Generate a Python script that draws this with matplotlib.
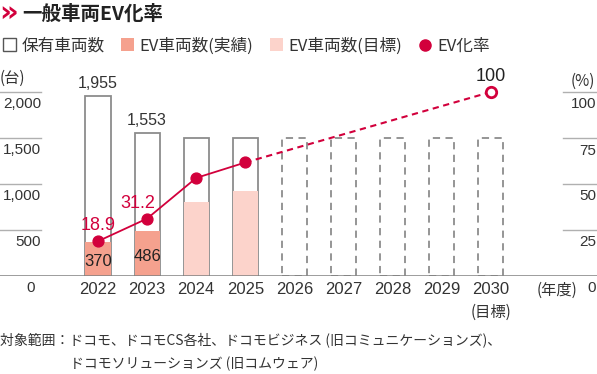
import matplotlib
matplotlib.use("Agg")
from matplotlib import pyplot as plt
from matplotlib.patches import Patch
from matplotlib.lines import Line2D

plt.rcParams["font.family"] = ["Noto Sans CJK JP", "DejaVu Sans"]

years = ["2022", "2023", "2024", "2025", "2026", "2027", "2028", "2029", "2030"]
total = [1955, 1553, 1500, 1500, 1500, 1500, 1500, 1500, 1500]
ev_actual = [370, 486]
ev_target = [800, 925]
ev_rate = [18.9, 31.2, 53.3, 61.7]
rate_2030 = 100
left_ticks = [0, 500, 1000, 1500, 2000]
right_ticks = [0, 25, 50, 75, 100]

RED = "#D2003C"
SALMON = "#F5A18E"
PINK = "#FCD3CB"
GRAY = "#8C8C8C"
TXT = "#333333"
NUM = ["Liberation Sans", "DejaVu Sans"]

W, H = 597, 374
fig = plt.figure(figsize=(W / 100, H / 100), dpi=100)
# axes covers full width; data x index i sits at 98 + 49.1*i px
ax = fig.add_axes([0, (H - 276) / H, 1, 216 / H])
ax.set_xlim(-98 / 49.1, (W - 98) / 49.1)
ymax = 216 / 184 * 2000
ax.set_ylim(0, ymax)
ax2 = ax.twinx()
ax2.set_ylim(0, ymax / 20)
for a in (ax, ax2):
    a.axis("off")

x = list(range(len(years)))
bw = 0.51

# total vehicles: solid for 2022-2025, dashed for later years
for i, v in enumerate(total):
    ls = (0, (4, 3)) if i >= 4 else "-"
    ax.bar(i, v, width=bw, facecolor="white", edgecolor=GRAY,
           linewidth=1.3, linestyle=ls, zorder=2)

ax.bar(x[:2], ev_actual, width=bw, color=SALMON, zorder=3)
ax.bar(x[2:4], ev_target, width=bw, color=PINK, zorder=3)

# baseline and the short gridlines at both sides
ax.axhline(0, color="#808080", lw=1.8, zorder=4)
for v in left_ticks[1:]:
    ax.axhline(v, xmin=0, xmax=41 / W, color="#B0B0B0", lw=1)
    ax.axhline(v, xmin=563 / W, xmax=1, color="#B0B0B0", lw=1)

for v in left_ticks:
    xx = 31 / W if v == 0 else 41 / W
    ax.annotate(f"{v:,}", xy=(xx, v), xycoords=("axes fraction", "data"),
                xytext=(0, -9), textcoords="offset points",
                ha="center" if v == 0 else "right", va="center",
                fontsize=11, family=NUM, color=TXT)
for v in right_ticks:
    ax2.annotate(str(v), xy=(596 / W, v), xycoords=("axes fraction", "data"),
                 xytext=(0, -9), textcoords="offset points", ha="right",
                 va="center", fontsize=11, family=NUM, color=TXT)

ax.annotate("(台)", xy=(0, 2000), xycoords=("axes fraction", "data"),
            xytext=(0, 10), textcoords="offset points", ha="left", va="center",
            fontsize=11, color=TXT)
ax2.annotate("(%)", xy=(595 / W, 100), xycoords=("axes fraction", "data"),
             xytext=(0, 8), textcoords="offset points", ha="right", va="center",
             fontsize=11, color=TXT)

# x labels
for i, y in enumerate(years):
    ax.annotate(y, xy=(i, 0), xytext=(0, -10), textcoords="offset points",
                ha="center", va="center", fontsize=12, family=NUM, color=TXT)
ax.annotate("(目標)", xy=(8, 0), xytext=(0, -26), textcoords="offset points",
            ha="center", va="center", fontsize=11, color=TXT)
ax.annotate("(年度)", xy=(557 / W, 0), xycoords=("axes fraction", "data"),
            xytext=(0, -10), textcoords="offset points", ha="center",
            va="center", fontsize=11, color=TXT)

# value labels
for i in range(2):
    ax.annotate(f"{total[i]:,}", xy=(i, total[i]), xytext=(0, 4),
                textcoords="offset points", ha="center", va="bottom",
                fontsize=11.5, family=NUM, color=TXT)
    ax.annotate(str(ev_actual[i]), xy=(i, ev_actual[i] / 2), xytext=(0, -2),
                textcoords="offset points", ha="center", va="center",
                fontsize=12, family=NUM, color="#222222", zorder=6)

# EV rate line
ax2.plot(x[:4], ev_rate, color=RED, lw=1.3, marker="o", ms=7.8, zorder=5)
ax2.plot([x[3], x[8]], [ev_rate[3], rate_2030], color=RED, lw=1.5,
         linestyle=(0, (3, 2.2)), zorder=5)
ax2.plot(x[8], rate_2030, marker="o", ms=7.5, mfc="white", mec=RED, mew=2,
         zorder=6)
ax2.annotate(f"{ev_rate[0]}", xy=(0, ev_rate[0]), xytext=(0, 11),
             textcoords="offset points", ha="center", va="center",
             fontsize=13, family=NUM, color=RED)
ax2.annotate(f"{ev_rate[1]}", xy=(1, ev_rate[1]), xytext=(-7, 11),
             textcoords="offset points", ha="center", va="center",
             fontsize=13, family=NUM, color=RED)
ax2.annotate(str(rate_2030), xy=(8, rate_2030), xytext=(0, 11),
             textcoords="offset points", ha="center", va="center",
             fontsize=13, family=NUM, color="#222222")

# title
fig.text(-1 / W, 1 - 13 / H, "»", color=RED, fontsize=21, fontweight="bold",
         va="center", ha="left", family=["DejaVu Sans"])
fig.text(22 / W, 1 - 14 / H, "一般車両EV化率", fontsize=14, fontweight="bold",
         va="center", ha="left", color="#222222")

# legend
handles = [
    Patch(facecolor="white", edgecolor="#555555", linewidth=1),
    Patch(facecolor=SALMON, edgecolor="none"),
    Patch(facecolor=PINK, edgecolor="none"),
    Line2D([], [], color=RED, marker="o", ms=8, lw=0),
]
labels = ["保有車両数", "EV車両数(実績)", "EV車両数(目標)", "EV化率"]
fig.legend(handles, labels, loc="center left", bbox_to_anchor=(3 / W, 1 - 46 / H),
           ncol=4, frameon=False, fontsize=12, handlelength=0.8,
           handleheight=0.8, handletextpad=0.3, columnspacing=1.0,
           borderpad=0, borderaxespad=0, labelcolor=TXT)

# footnote
fig.text(0, 1 - 340 / H,
         "対象範囲：ドコモ、ドコモCS各社、ドコモビジネス (旧コミュニケーションズ)、",
         fontsize=10, va="center", ha="left", color=TXT)
fig.text(70 / W, 1 - 364 / H, "ドコモソリューションズ (旧コムウェア)",
         fontsize=10, va="center", ha="left", color=TXT)

fig.savefig("out.png", dpi=100)
